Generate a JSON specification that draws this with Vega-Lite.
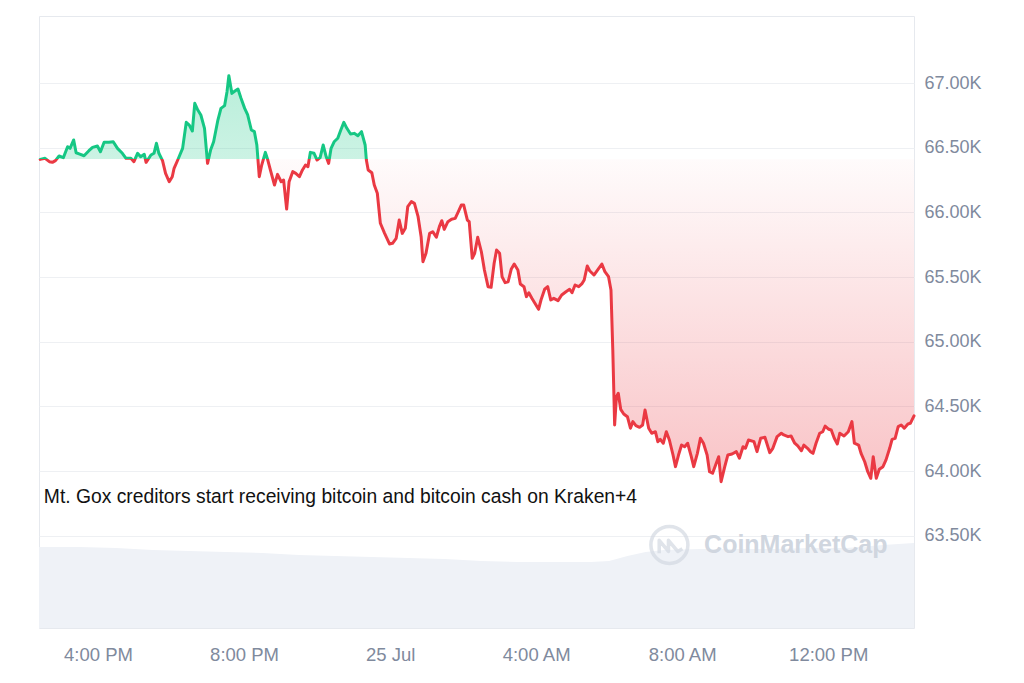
{
  "$schema": "https://vega.github.io/schema/vega-lite/v6.json",
  "width": 875,
  "height": 612,
  "padding": {"left": 38, "top": 16, "right": 0, "bottom": 0},
  "background": "white",
  "config": {
    "view": {"stroke": "#e6e9ee", "strokeWidth": 1},
    "font": "Liberation Sans"
  },
  "datasets": {
    "volume": [
      {"t": "2024-07-24T14:23", "v": 30.4},
      {"t": "2024-07-24T15:30", "v": 30.4},
      {"t": "2024-07-24T16:30", "v": 30.1},
      {"t": "2024-07-24T17:30", "v": 29.3},
      {"t": "2024-07-24T18:30", "v": 28.9},
      {"t": "2024-07-24T19:30", "v": 28.6},
      {"t": "2024-07-24T20:30", "v": 28.2},
      {"t": "2024-07-24T21:30", "v": 27.4},
      {"t": "2024-07-24T22:30", "v": 27.1},
      {"t": "2024-07-24T23:30", "v": 26.7},
      {"t": "2024-07-25T00:30", "v": 26.3},
      {"t": "2024-07-25T01:30", "v": 25.9},
      {"t": "2024-07-25T02:30", "v": 25.2},
      {"t": "2024-07-25T03:30", "v": 24.8},
      {"t": "2024-07-25T04:30", "v": 24.8},
      {"t": "2024-07-25T05:30", "v": 24.8},
      {"t": "2024-07-25T06:00", "v": 25.2},
      {"t": "2024-07-25T06:30", "v": 27.1},
      {"t": "2024-07-25T07:00", "v": 28.6},
      {"t": "2024-07-25T07:30", "v": 29.3},
      {"t": "2024-07-25T08:30", "v": 29.7},
      {"t": "2024-07-25T09:30", "v": 29.7},
      {"t": "2024-07-25T10:30", "v": 29.7},
      {"t": "2024-07-25T11:30", "v": 30.1},
      {"t": "2024-07-25T12:30", "v": 30.1},
      {"t": "2024-07-25T13:30", "v": 31.2},
      {"t": "2024-07-25T14:21", "v": 31.9}
    ],
    "price": [
      {"t": "2024-07-24T14:25", "p": 66410},
      {"t": "2024-07-24T14:33", "p": 66418},
      {"t": "2024-07-24T14:40", "p": 66392},
      {"t": "2024-07-24T14:45", "p": 66387},
      {"t": "2024-07-24T14:50", "p": 66400},
      {"t": "2024-07-24T14:56", "p": 66436},
      {"t": "2024-07-24T15:03", "p": 66423},
      {"t": "2024-07-24T15:10", "p": 66508},
      {"t": "2024-07-24T15:14", "p": 66495},
      {"t": "2024-07-24T15:20", "p": 66560},
      {"t": "2024-07-24T15:24", "p": 66461},
      {"t": "2024-07-24T15:30", "p": 66451},
      {"t": "2024-07-24T15:37", "p": 66438},
      {"t": "2024-07-24T15:45", "p": 66477},
      {"t": "2024-07-24T15:51", "p": 66503},
      {"t": "2024-07-24T15:59", "p": 66513},
      {"t": "2024-07-24T16:04", "p": 66469},
      {"t": "2024-07-24T16:10", "p": 66542},
      {"t": "2024-07-24T16:18", "p": 66542},
      {"t": "2024-07-24T16:25", "p": 66546},
      {"t": "2024-07-24T16:32", "p": 66495},
      {"t": "2024-07-24T16:40", "p": 66457},
      {"t": "2024-07-24T16:46", "p": 66418},
      {"t": "2024-07-24T16:54", "p": 66418},
      {"t": "2024-07-24T16:59", "p": 66392},
      {"t": "2024-07-24T17:05", "p": 66457},
      {"t": "2024-07-24T17:10", "p": 66430},
      {"t": "2024-07-24T17:16", "p": 66449},
      {"t": "2024-07-24T17:19", "p": 66387},
      {"t": "2024-07-24T17:27", "p": 66444},
      {"t": "2024-07-24T17:32", "p": 66457},
      {"t": "2024-07-24T17:36", "p": 66534},
      {"t": "2024-07-24T17:40", "p": 66457},
      {"t": "2024-07-24T17:46", "p": 66400},
      {"t": "2024-07-24T17:51", "p": 66302},
      {"t": "2024-07-24T17:57", "p": 66237},
      {"t": "2024-07-24T18:02", "p": 66276},
      {"t": "2024-07-24T18:05", "p": 66341},
      {"t": "2024-07-24T18:11", "p": 66405},
      {"t": "2024-07-24T18:19", "p": 66495},
      {"t": "2024-07-24T18:25", "p": 66696},
      {"t": "2024-07-24T18:30", "p": 66675},
      {"t": "2024-07-24T18:35", "p": 66629},
      {"t": "2024-07-24T18:39", "p": 66843},
      {"t": "2024-07-24T18:44", "p": 66791},
      {"t": "2024-07-24T18:49", "p": 66753},
      {"t": "2024-07-24T18:55", "p": 66650},
      {"t": "2024-07-24T19:00", "p": 66379},
      {"t": "2024-07-24T19:05", "p": 66482},
      {"t": "2024-07-24T19:10", "p": 66546},
      {"t": "2024-07-24T19:17", "p": 66714},
      {"t": "2024-07-24T19:22", "p": 66804},
      {"t": "2024-07-24T19:28", "p": 66825},
      {"t": "2024-07-24T19:32", "p": 66933},
      {"t": "2024-07-24T19:35", "p": 67056},
      {"t": "2024-07-24T19:40", "p": 66920},
      {"t": "2024-07-24T19:45", "p": 66938},
      {"t": "2024-07-24T19:50", "p": 66954},
      {"t": "2024-07-24T19:55", "p": 66882},
      {"t": "2024-07-24T20:01", "p": 66804},
      {"t": "2024-07-24T20:06", "p": 66753},
      {"t": "2024-07-24T20:12", "p": 66637},
      {"t": "2024-07-24T20:17", "p": 66624},
      {"t": "2024-07-24T20:21", "p": 66521},
      {"t": "2024-07-24T20:25", "p": 66276},
      {"t": "2024-07-24T20:29", "p": 66366},
      {"t": "2024-07-24T20:35", "p": 66464},
      {"t": "2024-07-24T20:39", "p": 66405},
      {"t": "2024-07-24T20:44", "p": 66315},
      {"t": "2024-07-24T20:50", "p": 66212},
      {"t": "2024-07-24T20:55", "p": 66294},
      {"t": "2024-07-24T21:01", "p": 66237},
      {"t": "2024-07-24T21:05", "p": 66250},
      {"t": "2024-07-24T21:10", "p": 66026},
      {"t": "2024-07-24T21:14", "p": 66237},
      {"t": "2024-07-24T21:20", "p": 66315},
      {"t": "2024-07-24T21:25", "p": 66302},
      {"t": "2024-07-24T21:31", "p": 66276},
      {"t": "2024-07-24T21:36", "p": 66328},
      {"t": "2024-07-24T21:41", "p": 66366},
      {"t": "2024-07-24T21:45", "p": 66353},
      {"t": "2024-07-24T21:49", "p": 66464},
      {"t": "2024-07-24T21:55", "p": 66457},
      {"t": "2024-07-24T22:00", "p": 66405},
      {"t": "2024-07-24T22:05", "p": 66423},
      {"t": "2024-07-24T22:10", "p": 66521},
      {"t": "2024-07-24T22:15", "p": 66430},
      {"t": "2024-07-24T22:19", "p": 66379},
      {"t": "2024-07-24T22:23", "p": 66495},
      {"t": "2024-07-24T22:28", "p": 66546},
      {"t": "2024-07-24T22:34", "p": 66573},
      {"t": "2024-07-24T22:39", "p": 66637},
      {"t": "2024-07-24T22:44", "p": 66696},
      {"t": "2024-07-24T22:49", "p": 66650},
      {"t": "2024-07-24T22:55", "p": 66606},
      {"t": "2024-07-24T23:01", "p": 66611},
      {"t": "2024-07-24T23:07", "p": 66593},
      {"t": "2024-07-24T23:13", "p": 66624},
      {"t": "2024-07-24T23:19", "p": 66521},
      {"t": "2024-07-24T23:21", "p": 66405},
      {"t": "2024-07-24T23:24", "p": 66328},
      {"t": "2024-07-24T23:30", "p": 66307},
      {"t": "2024-07-24T23:34", "p": 66212},
      {"t": "2024-07-24T23:39", "p": 66148},
      {"t": "2024-07-24T23:44", "p": 65916},
      {"t": "2024-07-24T23:51", "p": 65838},
      {"t": "2024-07-24T23:59", "p": 65756},
      {"t": "2024-07-25T00:04", "p": 65761},
      {"t": "2024-07-25T00:10", "p": 65800},
      {"t": "2024-07-25T00:15", "p": 65941},
      {"t": "2024-07-25T00:20", "p": 65838},
      {"t": "2024-07-25T00:25", "p": 65877},
      {"t": "2024-07-25T00:29", "p": 66044},
      {"t": "2024-07-25T00:35", "p": 66083},
      {"t": "2024-07-25T00:40", "p": 66070},
      {"t": "2024-07-25T00:46", "p": 65967},
      {"t": "2024-07-25T00:51", "p": 65812},
      {"t": "2024-07-25T00:54", "p": 65619},
      {"t": "2024-07-25T00:59", "p": 65684},
      {"t": "2024-07-25T01:05", "p": 65838},
      {"t": "2024-07-25T01:10", "p": 65851},
      {"t": "2024-07-25T01:16", "p": 65808},
      {"t": "2024-07-25T01:21", "p": 65890},
      {"t": "2024-07-25T01:25", "p": 65936},
      {"t": "2024-07-25T01:29", "p": 65869},
      {"t": "2024-07-25T01:35", "p": 65928},
      {"t": "2024-07-25T01:41", "p": 65947},
      {"t": "2024-07-25T01:47", "p": 65954},
      {"t": "2024-07-25T01:52", "p": 66005},
      {"t": "2024-07-25T01:57", "p": 66057},
      {"t": "2024-07-25T02:01", "p": 66057},
      {"t": "2024-07-25T02:07", "p": 65941},
      {"t": "2024-07-25T02:10", "p": 65928},
      {"t": "2024-07-25T02:15", "p": 65645},
      {"t": "2024-07-25T02:19", "p": 65684},
      {"t": "2024-07-25T02:24", "p": 65808},
      {"t": "2024-07-25T02:30", "p": 65696},
      {"t": "2024-07-25T02:35", "p": 65555},
      {"t": "2024-07-25T02:41", "p": 65426},
      {"t": "2024-07-25T02:46", "p": 65421},
      {"t": "2024-07-25T02:51", "p": 65607},
      {"t": "2024-07-25T02:55", "p": 65709},
      {"t": "2024-07-25T03:00", "p": 65684},
      {"t": "2024-07-25T03:04", "p": 65503},
      {"t": "2024-07-25T03:09", "p": 65457},
      {"t": "2024-07-25T03:14", "p": 65464},
      {"t": "2024-07-25T03:19", "p": 65560},
      {"t": "2024-07-25T03:24", "p": 65601},
      {"t": "2024-07-25T03:30", "p": 65555},
      {"t": "2024-07-25T03:34", "p": 65447},
      {"t": "2024-07-25T03:40", "p": 65426},
      {"t": "2024-07-25T03:44", "p": 65349},
      {"t": "2024-07-25T03:48", "p": 65379},
      {"t": "2024-07-25T03:53", "p": 65336},
      {"t": "2024-07-25T03:58", "p": 65298},
      {"t": "2024-07-25T04:04", "p": 65251},
      {"t": "2024-07-25T04:08", "p": 65323},
      {"t": "2024-07-25T04:14", "p": 65406},
      {"t": "2024-07-25T04:19", "p": 65426},
      {"t": "2024-07-25T04:24", "p": 65323},
      {"t": "2024-07-25T04:29", "p": 65336},
      {"t": "2024-07-25T04:36", "p": 65318},
      {"t": "2024-07-25T04:42", "p": 65362},
      {"t": "2024-07-25T04:49", "p": 65387},
      {"t": "2024-07-25T04:55", "p": 65406},
      {"t": "2024-07-25T04:59", "p": 65379},
      {"t": "2024-07-25T05:04", "p": 65439},
      {"t": "2024-07-25T05:10", "p": 65426},
      {"t": "2024-07-25T05:15", "p": 65447},
      {"t": "2024-07-25T05:19", "p": 65478},
      {"t": "2024-07-25T05:24", "p": 65586},
      {"t": "2024-07-25T05:28", "p": 65549},
      {"t": "2024-07-25T05:35", "p": 65516},
      {"t": "2024-07-25T05:40", "p": 65549},
      {"t": "2024-07-25T05:48", "p": 65601},
      {"t": "2024-07-25T05:53", "p": 65542},
      {"t": "2024-07-25T05:59", "p": 65503},
      {"t": "2024-07-25T06:03", "p": 65400},
      {"t": "2024-07-25T06:06", "p": 64937},
      {"t": "2024-07-25T06:09", "p": 64357},
      {"t": "2024-07-25T06:12", "p": 64576},
      {"t": "2024-07-25T06:15", "p": 64602},
      {"t": "2024-07-25T06:19", "p": 64478},
      {"t": "2024-07-25T06:24", "p": 64442},
      {"t": "2024-07-25T06:30", "p": 64421},
      {"t": "2024-07-25T06:35", "p": 64332},
      {"t": "2024-07-25T06:39", "p": 64383},
      {"t": "2024-07-25T06:44", "p": 64352},
      {"t": "2024-07-25T06:50", "p": 64339},
      {"t": "2024-07-25T06:55", "p": 64357},
      {"t": "2024-07-25T06:59", "p": 64473},
      {"t": "2024-07-25T07:05", "p": 64332},
      {"t": "2024-07-25T07:10", "p": 64293},
      {"t": "2024-07-25T07:16", "p": 64305},
      {"t": "2024-07-25T07:20", "p": 64228},
      {"t": "2024-07-25T07:24", "p": 64246},
      {"t": "2024-07-25T07:29", "p": 64216},
      {"t": "2024-07-25T07:34", "p": 64305},
      {"t": "2024-07-25T07:39", "p": 64241},
      {"t": "2024-07-25T07:45", "p": 64125},
      {"t": "2024-07-25T07:49", "p": 64035},
      {"t": "2024-07-25T07:54", "p": 64125},
      {"t": "2024-07-25T07:59", "p": 64202},
      {"t": "2024-07-25T08:04", "p": 64189},
      {"t": "2024-07-25T08:09", "p": 64216},
      {"t": "2024-07-25T08:15", "p": 64112},
      {"t": "2024-07-25T08:19", "p": 64035},
      {"t": "2024-07-25T08:25", "p": 64138},
      {"t": "2024-07-25T08:30", "p": 64254},
      {"t": "2024-07-25T08:35", "p": 64216},
      {"t": "2024-07-25T08:41", "p": 64125},
      {"t": "2024-07-25T08:45", "p": 63996},
      {"t": "2024-07-25T08:50", "p": 63984},
      {"t": "2024-07-25T08:56", "p": 64061},
      {"t": "2024-07-25T09:00", "p": 64112},
      {"t": "2024-07-25T09:04", "p": 63919},
      {"t": "2024-07-25T09:10", "p": 64035},
      {"t": "2024-07-25T09:15", "p": 64125},
      {"t": "2024-07-25T09:22", "p": 64133},
      {"t": "2024-07-25T09:29", "p": 64151},
      {"t": "2024-07-25T09:34", "p": 64100},
      {"t": "2024-07-25T09:40", "p": 64189},
      {"t": "2024-07-25T09:44", "p": 64177},
      {"t": "2024-07-25T09:49", "p": 64241},
      {"t": "2024-07-25T09:58", "p": 64228},
      {"t": "2024-07-25T10:03", "p": 64151},
      {"t": "2024-07-25T10:09", "p": 64254},
      {"t": "2024-07-25T10:16", "p": 64262},
      {"t": "2024-07-25T10:24", "p": 64143},
      {"t": "2024-07-25T10:29", "p": 64177},
      {"t": "2024-07-25T10:36", "p": 64267},
      {"t": "2024-07-25T10:43", "p": 64293},
      {"t": "2024-07-25T10:47", "p": 64280},
      {"t": "2024-07-25T10:54", "p": 64267},
      {"t": "2024-07-25T10:59", "p": 64272},
      {"t": "2024-07-25T11:05", "p": 64216},
      {"t": "2024-07-25T11:10", "p": 64195},
      {"t": "2024-07-25T11:16", "p": 64158},
      {"t": "2024-07-25T11:20", "p": 64202},
      {"t": "2024-07-25T11:26", "p": 64177},
      {"t": "2024-07-25T11:31", "p": 64151},
      {"t": "2024-07-25T11:35", "p": 64138},
      {"t": "2024-07-25T11:40", "p": 64216},
      {"t": "2024-07-25T11:46", "p": 64293},
      {"t": "2024-07-25T11:51", "p": 64305},
      {"t": "2024-07-25T11:55", "p": 64349},
      {"t": "2024-07-25T12:01", "p": 64324},
      {"t": "2024-07-25T12:05", "p": 64318},
      {"t": "2024-07-25T12:10", "p": 64254},
      {"t": "2024-07-25T12:15", "p": 64210},
      {"t": "2024-07-25T12:19", "p": 64293},
      {"t": "2024-07-25T12:26", "p": 64272},
      {"t": "2024-07-25T12:33", "p": 64305},
      {"t": "2024-07-25T12:39", "p": 64383},
      {"t": "2024-07-25T12:43", "p": 64216},
      {"t": "2024-07-25T12:50", "p": 64202},
      {"t": "2024-07-25T12:54", "p": 64138},
      {"t": "2024-07-25T13:00", "p": 64073},
      {"t": "2024-07-25T13:05", "p": 63996},
      {"t": "2024-07-25T13:10", "p": 63945},
      {"t": "2024-07-25T13:14", "p": 64112},
      {"t": "2024-07-25T13:19", "p": 63945},
      {"t": "2024-07-25T13:24", "p": 64015},
      {"t": "2024-07-25T13:30", "p": 64035},
      {"t": "2024-07-25T13:35", "p": 64087},
      {"t": "2024-07-25T13:41", "p": 64177},
      {"t": "2024-07-25T13:45", "p": 64246},
      {"t": "2024-07-25T13:50", "p": 64254},
      {"t": "2024-07-25T13:55", "p": 64344},
      {"t": "2024-07-25T14:00", "p": 64357},
      {"t": "2024-07-25T14:05", "p": 64332},
      {"t": "2024-07-25T14:11", "p": 64365},
      {"t": "2024-07-25T14:15", "p": 64370},
      {"t": "2024-07-25T14:21", "p": 64427}
    ],
    "notes": [
      {"t": "2024-07-24T14:31", "p": 63800, "label": "Mt. Gox creditors start receiving bitcoin and bitcoin cash on Kraken+4"}
    ],
    "brand": [
      {"t": "2024-07-25T08:36", "p": 63430, "label": "CoinMarketCap"}
    ],
    "logo": [
      {"t": "2024-07-25T07:39", "p": 63430}
    ]
  },
  "layer": [
    {
      "data": {"name": "volume"},
      "mark": {"type": "area", "color": "#eff2f7"},
      "encoding": {
        "x": {
          "field": "t", "type": "temporal",
          "scale": {"domain": [{"year": 2024, "month": 7, "date": 24, "hours": 14, "minutes": 23}, {"year": 2024, "month": 7, "date": 25, "hours": 14, "minutes": 21}]},
          "axis": {
            "values": [
              {"year": 2024, "month": 7, "date": 24, "hours": 16},
              {"year": 2024, "month": 7, "date": 24, "hours": 20},
              {"year": 2024, "month": 7, "date": 25, "hours": 0},
              {"year": 2024, "month": 7, "date": 25, "hours": 4},
              {"year": 2024, "month": 7, "date": 25, "hours": 8},
              {"year": 2024, "month": 7, "date": 25, "hours": 12}
            ],
            "labelExpr": "hours(datum.value) == 0 ? timeFormat(datum.value, '%-d %b') : timeFormat(datum.value, '%-I:%M %p')",
            "title": null, "grid": false, "ticks": false, "domain": false, "tickSize": 0,
            "labelPadding": 17, "labelFontSize": 18.5, "labelColor": "#808a9d", "labelFont": "Liberation Sans"
          }
        },
        "y": {"field": "v", "type": "quantitative", "scale": {"domain": [0, 230], "nice": false, "zero": true}, "axis": null}
      }
    },
    {
      "encoding": {
        "y": {
          "field": "p", "type": "quantitative",
          "scale": {"domain": [62788, 67518], "nice": false, "zero": false},
          "axis": {
            "orient": "right",
            "values": [63500, 64000, 64500, 65000, 65500, 66000, 66500, 67000],
            "labelExpr": "format(datum.value / 1000, '.2f') + 'K'",
            "title": null, "grid": true, "gridColor": "#eef0f3", "gridWidth": 1,
            "ticks": false, "tickSize": 0, "domain": false,
            "labelPadding": 10, "labelFontSize": 18, "labelColor": "#808a9d", "labelFont": "Liberation Sans"
          }
        }
      },
      "layer": [
        {
          "data": {"name": "price"},
          "mark": {
            "type": "area",
            "fill": {
              "gradient": "linear", "x1": 0, "y1": 0, "x2": 0, "y2": 1,
              "stops": [
                {"offset": 0, "color": "rgba(22,199,132,0.30)"},
                {"offset": 0.2059, "color": "rgba(22,199,132,0.22)"},
                {"offset": 0.2059, "color": "rgba(234,57,67,0.02)"},
                {"offset": 1, "color": "rgba(234,57,67,0.30)"}
              ]
            }
          },
          "encoding": {
            "x": {"field": "t", "type": "temporal"},
            "y2": {"datum": 66410}
          }
        },
        {
          "data": {"name": "logo"},
          "mark": {"type": "point", "shape": "circle", "size": 1369, "filled": false, "stroke": "#d3d9e2", "strokeWidth": 3.5},
          "encoding": {"x": {"field": "t", "type": "temporal"}}
        },
        {
          "data": {"name": "logo"},
          "mark": {"type": "point", "shape": "M-0.55,0.45 L-0.55,-0.25 L-0.05,0.35 L-0.05,-0.25 L0.45,0.35 L0.7,0.2", "size": 1369, "filled": false, "stroke": "#d3d9e2", "strokeWidth": 3.5, "strokeJoin": "round"},
          "encoding": {"x": {"field": "t", "type": "temporal"}}
        },
        {
          "data": {"name": "brand"},
          "mark": {"type": "text", "align": "left", "baseline": "middle", "fontSize": 25, "fontWeight": "bold", "color": "#d0d6df", "font": "Liberation Sans"},
          "encoding": {"x": {"field": "t", "type": "temporal"}, "text": {"field": "label"}}
        },
        {
          "data": {"values": [{}]},
          "mark": {"type": "rule", "strokeDash": [1.5, 4.5], "color": "#7a808a", "strokeWidth": 1.2},
          "encoding": {"y": {"datum": 66410}}
        },
        {
          "data": {"name": "price"},
          "mark": {
            "type": "line", "strokeWidth": 3, "strokeJoin": "round", "strokeCap": "round",
            "stroke": {
              "gradient": "linear", "x1": 0, "y1": 0, "x2": 0, "y2": 1,
              "stops": [
                {"offset": 0, "color": "#16c784"},
                {"offset": 0.2059, "color": "#16c784"},
                {"offset": 0.2059, "color": "#ea3943"},
                {"offset": 1, "color": "#ea3943"}
              ]
            }
          },
          "encoding": {"x": {"field": "t", "type": "temporal"}}
        },
        {
          "data": {"name": "notes"},
          "mark": {"type": "text", "align": "left", "baseline": "middle", "fontSize": 19.3, "color": "#111111", "font": "Liberation Sans"},
          "encoding": {"x": {"field": "t", "type": "temporal"}, "text": {"field": "label"}}
        }
      ]
    }
  ],
  "resolve": {"scale": {"y": "independent"}}
}
